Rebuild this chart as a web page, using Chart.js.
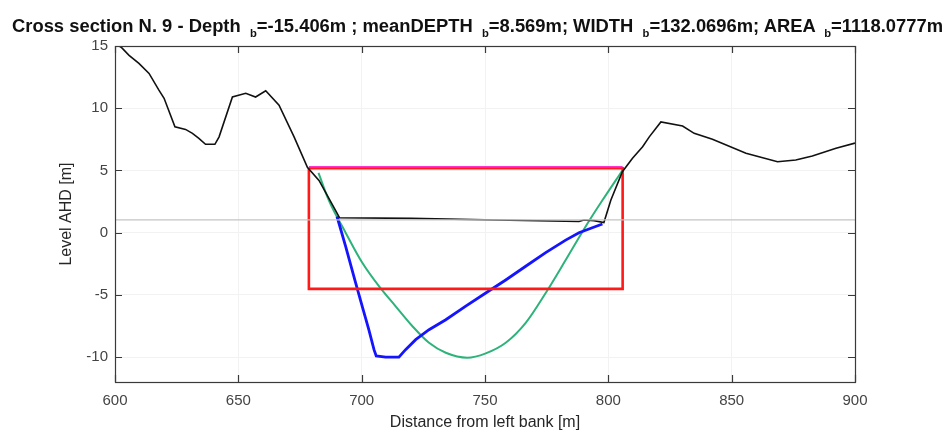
<!DOCTYPE html>
<html>
<head>
<meta charset="utf-8">
<script src="https://cdn.jsdelivr.net/npm/chart.js@4/dist/chart.umd.min.js"></script>
<style>
  html, body { margin: 0; padding: 0; background: #fff; }
  #wrap { position: relative; width: 949px; height: 432px; overflow: hidden; }
  #title {
    position: absolute; left: 12px; top: 16px; white-space: nowrap;
    font: bold 18px "Liberation Sans", Arial, sans-serif; line-height: 20px; color: #111;
    transform-origin: 0 0;
  }
  #title sub { font-size: 11px; vertical-align: -5px; margin-left: 4px; }
</style>
</head>
<body>
<div id="wrap">
  <canvas id="chart" width="949" height="432"></canvas>
  <div id="title">Cross section N. 9 - Depth <sub>b</sub>=-15.406m ; meanDEPTH <sub>b</sub>=8.569m; WIDTH <sub>b</sub>=132.0696m; AREA <sub>b</sub>=1118.0777m</div>
</div>
<script>
// axis ticks
const xTicks = [600, 650, 700, 750, 800, 850, 900];
const yTicks = [-10, -5, 0, 5, 10, 15];

// ground profile (black)
const groundX = [600, 602.5, 605.7, 609.7, 613.8, 617.8, 619.9, 624.3, 628.6, 631.4, 634.0, 636.7, 640.5, 642.2,
  647.6, 653.0, 657.0, 661.1, 666.5, 672.6, 678.0, 682.7, 689.4, 691.0, 720, 760, 788.1, 790.1, 794.2, 798.2,
  801.0, 805.7, 809.8, 813.9, 816.6, 821.3, 830.1, 834.8, 842.2, 855.8, 868.6, 876.0, 882.7, 892.3, 900];
const groundY = [15.2, 14.9, 14.25, 13.6, 12.8, 11.45, 10.8, 8.5, 8.3, 7.98, 7.58, 7.1, 7.1, 7.7,
  10.9, 11.2, 10.9, 11.4, 10.25, 7.7, 5.25, 4.2, 1.8, 1.2, 1.15, 1.0, 0.9, 1.02, 0.97, 0.82,
  2.6, 4.9, 5.98, 6.9, 7.7, 8.9, 8.57, 7.98, 7.5, 6.38, 5.7, 5.84, 6.16, 6.78, 7.2];

// water level (grey)
const waterX = [600, 900];
const waterY = [1.02, 1.02];

// bankfull rectangle (red) and its top (magenta)
const rectX = [678.6, 805.8, 805.8, 678.6, 678.6];
const rectY = [5.18, 5.18, -4.52, -4.52, 5.18];
const topX = [678.6, 805.8];
const topY = [5.3, 5.3];

// surveyed bed (blue)
const bedX = [690, 693.5, 697.5, 700.2, 702.9, 705.0, 705.9, 709.7, 715.1, 717.8, 721.9, 727.3, 734.1, 742.2,
  750.3, 758.4, 766.5, 774.6, 782.7, 788.1, 793.5, 797.6];
const bedY = [1.3, -1.1, -4.0, -5.9, -7.8, -9.4, -9.9, -10.0, -10.0, -9.4, -8.6, -7.8, -7.0, -5.9,
  -4.85, -3.8, -2.7, -1.6, -0.6, 0.0, 0.4, 0.7];

// fitted section (green)
const fitX = [682.5, 686.7, 693.5, 700.2, 707.0, 713.7, 720.5, 727.3, 734.1, 742.8, 750.3, 758.4, 766.5,
  774.6, 782.7, 790.8, 797.6, 805.7];
const fitY = [4.8, 2.6, 0.0, -2.4, -4.3, -5.9, -7.5, -8.85, -9.65, -10.05, -9.7, -8.85, -7.25,
  -4.85, -2.2, 0.5, 2.6, 5.0];

function pts(xs, ys) { return xs.map((x, i) => ({ x: x, y: ys[i] })); }

function line(data, color, width, extra) {
  return Object.assign({ data: data, borderColor: color, borderWidth: width, showLine: true,
    pointRadius: 0, fill: false, tension: 0 }, extra || {});
}

// MATLAB-like box with inward ticks
const frame = {
  id: "frame",
  afterDatasetsDraw(chart) {
    const { ctx, chartArea: a, scales } = chart;
    ctx.save();
    ctx.strokeStyle = "#3a3a3a";
    ctx.lineWidth = 1.2;
    ctx.strokeRect(Math.round(a.left) + 0.5, Math.round(a.top) + 0.5, Math.round(a.right - a.left), Math.round(a.bottom - a.top));
    ctx.beginPath();
    xTicks.forEach((v) => {
      const px = Math.round(scales.x.getPixelForValue(v)) + 0.5;
      ctx.moveTo(px, a.bottom); ctx.lineTo(px, a.bottom - 7);
      ctx.moveTo(px, a.top); ctx.lineTo(px, a.top + 7);
    });
    yTicks.forEach((v) => {
      const py = Math.round(scales.y.getPixelForValue(v)) + 0.5;
      ctx.moveTo(a.left, py); ctx.lineTo(a.left + 7, py);
      ctx.moveTo(a.right, py); ctx.lineTo(a.right - 7, py);
    });
    ctx.stroke();
    ctx.restore();
  }
};

const tickFont = { family: "'Liberation Sans', Arial, sans-serif", size: 15 };
const titleFont = { family: "'Liberation Sans', Arial, sans-serif", size: 16 };

new Chart(document.getElementById("chart"), {
  type: "scatter",
  data: {
    datasets: [
      line(pts(waterX, waterY), "#c4c4c4", 1.2),
      line(pts(groundX, groundY), "#111111", 1.6),
      line(pts(topX, topY), "#ff33cc", 1.5),
      line(pts(rectX, rectY), "#ff1a1a", 2.6),
      line(pts(bedX, bedY), "#1414ff", 2.8),
      line(pts(fitX, fitY), "#2db37a", 2, { cubicInterpolationMode: "monotone" }),
    ],
  },
  options: {
    responsive: false,
    animation: false,
    layout: { padding: { top: 46, right: 94, left: 53, bottom: 0 } },
    plugins: { legend: { display: false }, tooltip: { enabled: false }, title: { display: false } },
    scales: {
      x: {
        type: "linear", min: 600, max: 900,
        afterBuildTicks: (s) => { s.ticks = xTicks.map((v) => ({ value: v })); },
        afterFit: (s) => { s.height = 50; },
        grid: { color: "#f2f2f2", drawTicks: false },
        border: { display: false },
        ticks: { color: "#444", font: tickFont, padding: 10, maxRotation: 0 },
        title: { display: true, text: "Distance from left bank [m]", color: "#262626",
          font: titleFont, padding: { top: 0, bottom: 0 } },
      },
      y: {
        type: "linear", min: -12, max: 15,
        afterBuildTicks: (s) => { s.ticks = yTicks.map((v) => ({ value: v })); },
        afterFit: (s) => { s.width = 62; },
        grid: { color: "#f2f2f2", drawTicks: false },
        border: { display: false },
        ticks: { color: "#444", font: tickFont, padding: 7 },
        title: { display: true, text: "Level AHD [m]", color: "#262626", font: titleFont },
      },
    },
  },
  plugins: [frame],
});

// fit title width to the reference span
const t = document.getElementById("title");
const w = t.scrollWidth;
t.style.transform = "scaleX(" + (931 / w) + ")";
</script>
</body>
</html>
